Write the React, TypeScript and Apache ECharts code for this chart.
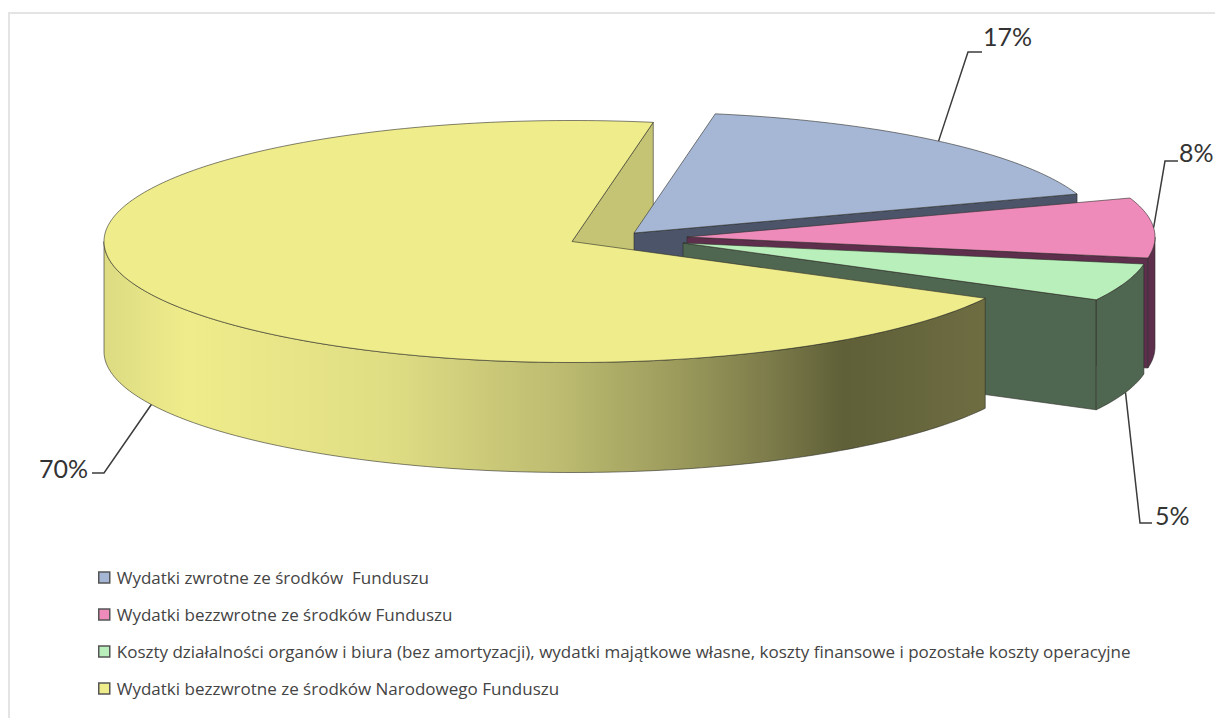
import React, { useEffect, useRef } from "react";
import * as echarts from "echarts";

const sliceNames = [
  "Wydatki zwrotne ze środków  Funduszu",
  "Wydatki bezzwrotne ze środków Funduszu",
  "Koszty działalności organów i biura (bez amortyzacji), wydatki majątkowe własne, koszty finansowe i pozostałe koszty operacyjne",
  "Wydatki bezzwrotne ze środków Narodowego Funduszu",
];
const sliceValues = [17, 8, 5, 70];
const topColors = ["#a6b7d6", "#ee8bbb", "#b9efbb", "#efec8b"];
const wallColors = ["#4b5468", "#5d2f4d", "#4f6650", "#c5c475"];

const LABEL_FONT = "Lato";
const LEGEND_FONT = "Open Sans";
const START_ANGLE = 80;
const RX = 468;
const RY = 121;
const DEPTH = 110;
const CENTERS = [
  [634, 233],
  [687, 237],
  [683, 243],
  [572, 241.5],
];
const LABEL_ELBOWS = [
  [[968, 52], [982, 52]],
  [[1165, 161], [1178, 161]],
  [[1140, 523], [1152, 523]],
  [[104, 473], [92, 473]],
];
const LABEL_POS = [
  [983, 36],
  [1179, 152],
  [1155, 515],
  [39, 468],
];

const rad = (a: number) => (a * Math.PI) / 180;
const rimPt = (c: number[], a: number, dy = 0) => [
  c[0] + RX * Math.cos(rad(a)),
  c[1] - RY * Math.sin(rad(a)) + dy,
];
const arcPts = (c: number[], from: number, to: number, dy = 0) => {
  const n = Math.max(2, Math.ceil(Math.abs(from - to)));
  const out: number[][] = [];
  for (let i = 0; i <= n; i++) out.push(rimPt(c, from + ((to - from) * i) / n, dy));
  return out;
};

const yellowGradient = {
  type: "linear",
  x: 0,
  y: 0,
  x2: 1,
  y2: 0,
  colorStops: [
    { offset: 0, color: "#dcdb82" },
    { offset: 0.094, color: "#efec8b" },
    { offset: 0.32, color: "#e0de84" },
    { offset: 0.52, color: "#bcbb70" },
    { offset: 0.65, color: "#9c9b5c" },
    { offset: 0.75, color: "#7e7d4b" },
    { offset: 0.84, color: "#5f5f38" },
    { offset: 1, color: "#6e6d42" },
  ],
};

const edge = { stroke: "rgba(45,45,40,0.75)", lineWidth: 0.8 };

function renderSlice(index: number) {
  return (_params: any, api: any) => {
    const value = api.value(0);
    const before = sliceValues.slice(0, index).reduce((s, v) => s + v, 0);
    const total = sliceValues.reduce((s, v) => s + v, 0);
    const a0 = START_ANGLE - (before / total) * 360;
    const a1 = a0 - (value / total) * 360;
    const mid = (a0 + a1) / 2;
    const c = CENTERS[index];
    const base = (index + 1) * 10;
    const reflex = a0 - a1 > 180;
    const children: any[] = [];
    const poly = (points: number[][], fill: any, z2: number) =>
      children.push({ type: "polygon", z2, shape: { points }, style: { fill, ...edge } });

    // cut face at the clockwise end of the slice
    if (Math.sin(rad(a1 - 90)) < 0) {
      const tip = rimPt(c, a1);
      poly(
        [c, tip, [tip[0], tip[1] + DEPTH], [c[0], c[1] + DEPTH]],
        wallColors[index],
        reflex ? 0 : base
      );
    }
    // outer wall: the part of the rim that faces the viewer
    const from = Math.min(a0, 0);
    const to = Math.max(a1, -180);
    if (from > to) {
      const top = arcPts(c, from, to);
      const bottom = arcPts(c, to, from, DEPTH);
      poly([...top, ...bottom], reflex ? yellowGradient : wallColors[index], base + 1);
    }
    // top face
    poly([c, ...arcPts(c, a0, a1)], topColors[index], base + 2);

    // leader line and label
    const anchor = rimPt(c, mid, Math.sin(rad(mid)) < 0 ? DEPTH : 0);
    children.push({
      type: "polyline",
      z2: 100,
      shape: { points: [anchor, ...LABEL_ELBOWS[index]] },
      style: { fill: "none", stroke: "#3c3c3c", lineWidth: 1.5 },
    });
    children.push({
      type: "text",
      z2: 100,
      x: LABEL_POS[index][0],
      y: LABEL_POS[index][1],
      style: {
        text: `${value}%`,
        fill: "#333",
        font: `25px ${LABEL_FONT}`,
        verticalAlign: "middle",
      },
    });
    return { type: "group", children };
  };
}

export default function App() {
  const ref = useRef<HTMLDivElement>(null);
  useEffect(() => {
    const chart = echarts.init(ref.current!, undefined, { renderer: "svg" });
    chart.setOption({
      animation: false,
      backgroundColor: "#ffffff",
      legend: {
        orient: "vertical",
        left: 93,
        top: 563,
        itemWidth: 11,
        itemHeight: 11,
        itemGap: 18,
        selectedMode: false,
        textStyle: { fontFamily: LEGEND_FONT, fontSize: 17, color: "#444", lineHeight: 19, padding: [0, 0, 0, 2] },
        data: sliceNames.map((name, i) => ({
          name,
          icon: "rect",
          itemStyle: { color: topColors[i], borderColor: "#555", borderWidth: 1.5 },
        })),
      },
      graphic: [
        {
          type: "rect",
          silent: true,
          z: -1,
          shape: { x: 9, y: 13, width: 1400, height: 900 },
          style: { fill: "none", stroke: "#e4e4e4", lineWidth: 2 },
        },
      ],
      series: sliceValues.map((v, i) => ({
        type: "custom",
        name: sliceNames[i],
        coordinateSystem: "none",
        silent: true,
        itemStyle: { color: topColors[i] },
        renderItem: renderSlice(i),
        data: [[v]],
      })),
    });
    return () => chart.dispose();
  }, []);
  return (
    <div
      ref={ref}
      style={{ position: "absolute", left: 0, top: 0, width: 1215, height: 718 }}
    />
  );
}
